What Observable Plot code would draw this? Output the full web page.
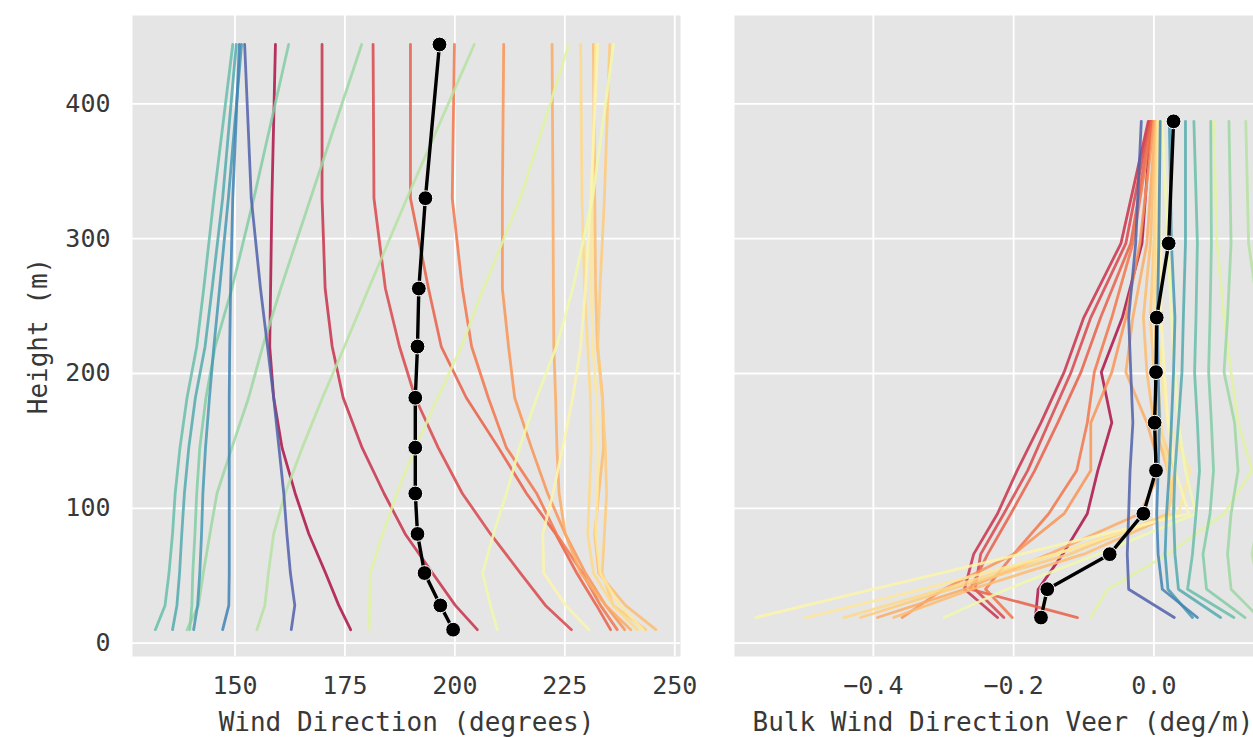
<!DOCTYPE html>
<html>
<head>
<meta charset="utf-8">
<script src="https://cdn.jsdelivr.net/npm/d3@7"></script>
<script src="https://cdn.jsdelivr.net/npm/@observablehq/plot@0.6"></script>
<style>
  html, body { margin: 0; padding: 0; background: #fff; overflow: hidden; }
  #figure { position: relative; width: 1253px; height: 737px; }
  #figure > svg { position: absolute; top: 0; max-width: none; }
</style>
</head>
<body>
<div id="figure"></div>
<script>
// Measurement levels (m) for the direction profiles, and the mid-layer heights used for veer
const levelHeights = [10, 28, 52, 81, 111, 145, 182, 220, 263, 330, 444];
const midHeights = [19, 40, 66, 96, 128, 163.5, 201, 241.5, 296.5, 387];

// Position of each profile on the Spectral colour ramp
const profileTone = [0.03, 0.08, 0.12, 0.17, 0.21, 0.26, 0.30, 0.33, 0.36, 0.39, 0.43,
                     0.48, 0.55, 0.60, 0.68, 0.72, 0.76, 0.80, 0.84, 0.87, 0.91, 0.97];

// Wind direction (degrees) at each level, one row per profile
const directionProfiles = [
  [176.3, 173.6, 170.6, 166.8, 163.7, 160.7, 158.8, 157.9, 158.1, 158.4, 159.2],
  [205.1, 200.1, 194.9, 188.7, 183.9, 178.9, 174.6, 172.1, 170.5, 169.8, 169.8],
  [226.5, 220.6, 214.9, 208.1, 201.7, 196.2, 191.0, 187.4, 184.2, 181.6, 181.4],
  [235.4, 232.2, 227.7, 222.9, 216.3, 209.9, 202.6, 196.9, 194.0, 189.9, 189.9],
  [236.9, 233.1, 229.0, 223.1, 218.6, 211.7, 207.6, 203.8, 201.7, 199.4, 199.9],
  [238.6, 234.3, 229.7, 225.1, 221.1, 217.4, 213.6, 212.2, 210.8, 210.8, 211.1],
  [240.0, 234.3, 228.6, 225.1, 223.7, 223.2, 222.9, 222.5, 222.4, 222.3, 222.1],
  [245.7, 238.8, 232.7, 231.8, 232.7, 233.8, 233.6, 232.4, 232.0, 231.8, 231.5],
  [243.4, 236.0, 233.5, 234.0, 234.5, 234.2, 233.5, 232.5, 233.0, 234.0, 235.2],
  [241.5, 236.0, 231.5, 230.2, 230.6, 231.0, 230.8, 230.2, 229.5, 228.9, 228.6],
  [242.8, 237.5, 233.0, 232.0, 232.4, 232.6, 232.2, 231.4, 231.0, 231.2, 232.0],
  [230.5, 225.2, 220.2, 220.0, 222.3, 224.5, 226.8, 228.6, 229.7, 230.9, 232.5],
  [209.6, 208.1, 206.3, 208.8, 211.7, 214.7, 218.6, 223.1, 226.8, 231.3, 236.1],
  [180.5, 180.6, 180.8, 183.6, 186.8, 191.0, 196.1, 201.5, 206.5, 214.9, 225.9],
  [155.0, 156.8, 157.6, 158.8, 161.4, 165.3, 169.9, 174.9, 180.4, 189.1, 204.4],
  [139.1, 141.7, 142.8, 144.3, 145.9, 149.3, 153.1, 156.3, 160.4, 167.2, 178.8],
  [139.7, 140.2, 140.4, 140.9, 141.3, 142.0, 143.4, 145.5, 149.3, 154.3, 162.2],
  [131.9, 134.1, 135.0, 135.8, 136.4, 137.5, 139.1, 141.3, 142.9, 145.2, 149.5],
  [135.8, 136.8, 137.4, 137.9, 138.5, 139.5, 141.0, 143.2, 144.8, 147.2, 150.3],
  [140.6, 141.5, 142.0, 142.4, 142.7, 143.3, 144.2, 145.2, 146.5, 148.5, 151.5],
  [147.2, 148.6, 148.7, 148.7, 148.7, 148.7, 148.7, 148.8, 149.0, 149.5, 151.0],
  [162.8, 163.6, 162.6, 161.8, 161.1, 160.0, 158.8, 157.4, 155.8, 153.7, 152.2]
];

// Bulk veer (deg/m) between consecutive levels, same profile order
const veerProfiles = [
  [-0.169, -0.165, -0.130, -0.095, -0.080, -0.060, -0.075, -0.045, -0.017, -0.004],
  [-0.223, -0.270, -0.257, -0.223, -0.195, -0.161, -0.128, -0.100, -0.047, -0.008],
  [-0.214, -0.255, -0.247, -0.214, -0.180, -0.150, -0.118, -0.090, -0.040, -0.006],
  [-0.109, -0.262, -0.237, -0.204, -0.170, -0.137, -0.104, -0.076, -0.033, -0.004],
  [-0.202, -0.240, -0.200, -0.150, -0.110, -0.095, -0.085, -0.060, -0.030, -0.002],
  [-0.359, -0.300, -0.200, -0.128, -0.090, -0.090, -0.060, -0.040, -0.020, 0.000],
  [-0.394, -0.270, -0.150, -0.020, 0.010, -0.010, -0.040, -0.030, -0.010, 0.002],
  [-0.371, -0.260, -0.100, 0.030, 0.020, 0.000, -0.010, -0.015, -0.005, 0.003],
  [-0.418, -0.290, -0.120, 0.020, 0.030, 0.005, 0.000, -0.005, 0.000, 0.004],
  [-0.442, -0.300, -0.140, 0.030, 0.020, 0.010, 0.005, 0.000, 0.002, 0.005],
  [-0.497, -0.330, -0.140, 0.035, 0.052, 0.020, 0.010, 0.005, 0.005, 0.006],
  [-0.568, -0.400, -0.190, 0.050, 0.030, 0.020, 0.015, 0.010, 0.010, 0.008],
  [-0.299, -0.210, -0.080, 0.060, 0.045, 0.035, 0.030, 0.025, 0.020, 0.012],
  [-0.090, -0.066, 0.020, 0.100, 0.140, 0.120, 0.110, 0.100, 0.090, 0.085],
  [0.180, 0.150, 0.140, 0.150, 0.160, 0.150, 0.145, 0.150, 0.135, 0.131],
  [0.150, 0.110, 0.105, 0.110, 0.120, 0.115, 0.100, 0.105, 0.110, 0.107],
  [0.130, 0.075, 0.070, 0.080, 0.085, 0.082, 0.078, 0.080, 0.082, 0.081],
  [0.114, 0.048, 0.055, 0.060, 0.065, 0.062, 0.058, 0.060, 0.062, 0.057],
  [0.095, 0.035, 0.030, 0.028, 0.030, 0.035, 0.040, 0.042, 0.045, 0.045],
  [0.055, 0.020, 0.016, 0.018, 0.022, 0.025, 0.028, 0.030, 0.025, 0.022],
  [0.062, 0.012, 0.006, 0.004, 0.006, 0.008, 0.006, 0.005, 0.007, 0.009],
  [0.029, -0.036, -0.038, -0.036, -0.034, -0.030, -0.033, -0.036, -0.026, -0.018]
];

// Mean profiles drawn in black
const meanDirection = [199.6, 196.7, 193.1, 191.5, 191.0, 191.0, 191.0, 191.5, 191.8, 193.3, 196.5];
const meanVeer = [-0.161, -0.152, -0.063, -0.015, 0.003, 0.001, 0.003, 0.004, 0.021, 0.028];

// Axis ticks
const heightTicks = [0, 100, 200, 300, 400];
const directionTicks = [150, 175, 200, 225, 250];
const veerTicks = [-0.4, -0.2, 0.0];

const heightDomain = [-9.9, 465.5];
const panelFill = "#e5e5e5";
const inkColor = "#383838";
const baseStyle = {
  fontFamily: "'DejaVu Sans Mono', monospace",
  fontSize: "25px",
  color: inkColor,
  background: "transparent"
};

const rows = (values, heights) => values.map((v, j) => ({value: v, height: heights[j]}));

function profileLines(profiles, heights, extra = {}) {
  return profiles.map((values, i) =>
    Plot.line(rows(values, heights), {
      x: "value", y: "height",
      stroke: d3.interpolateSpectral(profileTone[i]),
      strokeWidth: 2.8, strokeOpacity: 0.85,
      strokeLinejoin: "round", strokeLinecap: "round",
      ...extra
    })
  );
}

function meanMarks(values, heights) {
  const data = rows(values, heights);
  return [
    Plot.line(data, {x: "value", y: "height", stroke: "black", strokeWidth: 3.4}),
    Plot.dot(data, {x: "value", y: "height", r: 7.4, fill: "black", stroke: "white", strokeWidth: 1})
  ];
}

const figure = document.getElementById("figure");

// Left panel: wind direction profiles
const directionPlot = Plot.plot({
  width: 700, height: 737,
  marginLeft: 132, marginRight: 20, marginTop: 15, marginBottom: 81,
  style: baseStyle,
  x: {domain: [126.7, 251.3], ticks: directionTicks, tickSize: 0, tickPadding: 20, label: null},
  y: {domain: heightDomain, ticks: heightTicks, tickSize: 0, tickPadding: 22, label: null},
  marks: [
    Plot.frame({fill: panelFill, stroke: "none"}),
    Plot.ruleX(directionTicks, {stroke: "white", strokeWidth: 1.8}),
    Plot.ruleY(heightTicks, {stroke: "white", strokeWidth: 1.8}),
    ...profileLines(directionProfiles, levelHeights),
    ...meanMarks(meanDirection, levelHeights),
    Plot.text(["Wind Direction (degrees)"], {
      text: d => d, frameAnchor: "bottom", lineAnchor: "middle", textAnchor: "middle",
      dy: 66, fontSize: 26, fill: inkColor
    }),
    Plot.text(["Height (m)"], {
      text: d => d, frameAnchor: "left", lineAnchor: "middle", textAnchor: "middle",
      dx: -94, rotate: -90, fontSize: 26, fill: inkColor
    })
  ]
});
directionPlot.style.left = "0px";
figure.appendChild(directionPlot);

// Right panel: bulk veer profiles
const veerPlot = Plot.plot({
  width: 553, height: 737,
  marginLeft: 34, marginRight: 0, marginTop: 15, marginBottom: 81,
  style: baseStyle,
  x: {domain: [-0.598, 0.142], ticks: veerTicks, tickFormat: d3.format(".1f"), tickSize: 0, tickPadding: 20, label: null},
  y: {domain: heightDomain, axis: null},
  marks: [
    Plot.frame({fill: panelFill, stroke: "none"}),
    Plot.ruleX(veerTicks, {stroke: "white", strokeWidth: 1.8}),
    Plot.ruleY(heightTicks, {stroke: "white", strokeWidth: 1.8}),
    ...profileLines(veerProfiles, midHeights, {clip: true}),
    ...meanMarks(meanVeer, midHeights),
    Plot.text(["Bulk Wind Direction Veer (deg/m)"], {
      text: d => d, frameAnchor: "bottom-left", lineAnchor: "middle", textAnchor: "start",
      dx: 18, dy: 66, fontSize: 26, fill: inkColor
    })
  ]
});
veerPlot.style.left = "700px";
figure.appendChild(veerPlot);
</script>
</body>
</html>
